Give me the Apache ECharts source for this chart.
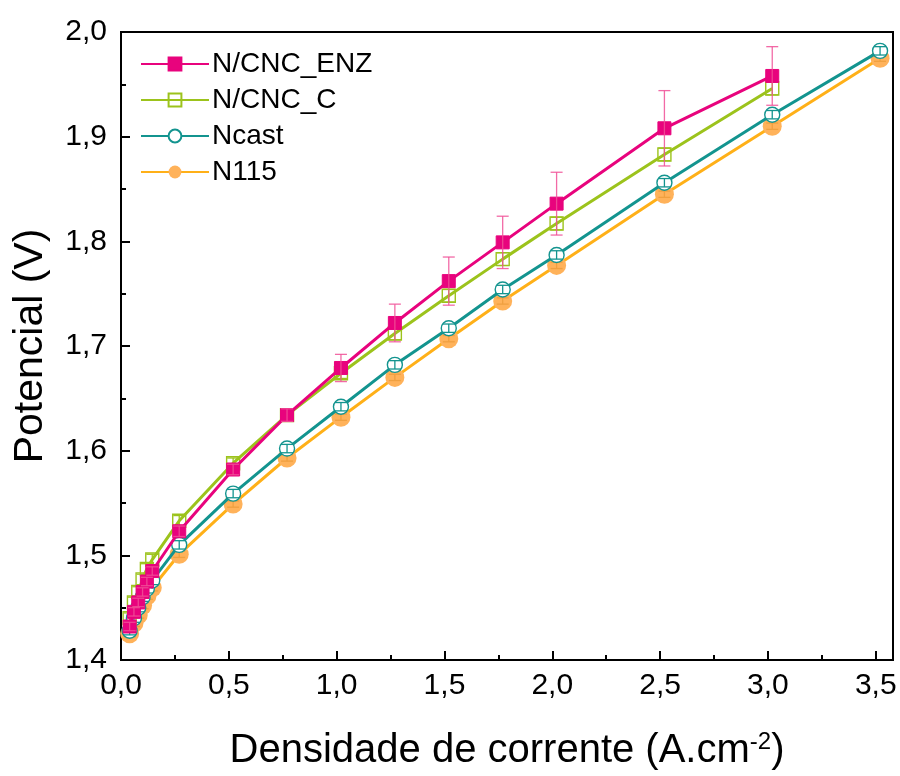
<!DOCTYPE html>
<html>
<head>
<meta charset="utf-8">
<script src="https://cdn.jsdelivr.net/npm/echarts@6/dist/echarts.min.js"></script>
<style>
  html, body { margin: 0; padding: 0; background: #fff; }
  #chart { width: 900px; height: 776px; }
</style>
</head>
<body>
<div id="chart"></div>
<script>
// Current density (A.cm^-2) at each measured point
const currentDensity = [0.04, 0.06, 0.08, 0.10, 0.12, 0.145, 0.27, 0.52, 0.77, 1.02, 1.27, 1.52, 1.77, 2.02, 2.52, 3.02, 3.52];

// Cell potential (V) for each membrane; null where no measurement
const potEnz   = [1.432, 1.446, 1.455, 1.465, 1.475, 1.485, 1.523, 1.582, 1.634, 1.679, 1.722, 1.762, 1.799, 1.836, 1.908, 1.958, null];
const potC     = [1.440, 1.455, 1.465, 1.477, 1.487, 1.496, 1.533, 1.588, 1.634, 1.674, 1.712, 1.748, 1.783, 1.817, 1.883, 1.946, null];
const potNcast = [1.428, 1.440, 1.450, 1.460, 1.468, 1.476, 1.510, 1.559, 1.602, 1.642, 1.682, 1.717, 1.754, 1.787, 1.856, 1.921, 1.982];
const potN115  = [1.425, 1.435, 1.443, 1.452, 1.461, 1.469, 1.501, 1.549, 1.593, 1.632, 1.670, 1.707, 1.743, 1.777, 1.845, 1.910, 1.975];

// Standard deviations (V)
const errEnz   = [0.004, 0.004, 0.004, 0.004, 0.004, 0.004, 0.005, 0.005, 0.006, 0.013, 0.018, 0.023, 0.025, 0.030, 0.036, 0.028, null];
const errC     = [0.005, 0.005, 0.005, 0.005, 0.005, 0.005, 0.005, 0.005, 0.005, 0.005, 0.006, 0.006, 0.006, 0.006, 0.006, 0.006, null];
const errNcast = [0.004, 0.004, 0.004, 0.004, 0.004, 0.004, 0.004, 0.004, 0.004, 0.004, 0.004, 0.004, 0.004, 0.004, 0.004, 0.004, 0.004];
const errN115  = [0.003, 0.003, 0.003, 0.003, 0.003, 0.003, 0.003, 0.003, 0.003, 0.003, 0.003, 0.003, 0.003, 0.003, 0.003, 0.003, 0.003];

const seriesNames = ['N/CNC_ENZ', 'N/CNC_C', 'Ncast', 'N115'];

// Axis ticks
const xTicks = { min: 0, max: 3.58, interval: 0.5 };
const yTicks = { min: 1.4, max: 2.0, interval: 0.1 };

const FONT = 'Liberation Sans, Arial, sans-serif';

function points(ys) {
  const out = [];
  ys.forEach((y, i) => { if (y !== null) out.push([currentDensity[i], y]); });
  return out;
}
function bars(ys, es) {
  const out = [];
  ys.forEach((y, i) => { if (y !== null && es[i] !== null) out.push([currentDensity[i], y - es[i], y + es[i]]); });
  return out;
}
function decimalComma(v) { return v.toFixed(1).replace('.', ','); }

function errorBarSeries(data, color, z) {
  return {
    type: 'custom',
    z: z,
    silent: true,
    data: data,
    encode: { x: 0, y: [1, 2] },
    renderItem: function (params, api) {
      const x = api.value(0);
      const lo = api.coord([x, api.value(1)]);
      const hi = api.coord([x, api.value(2)]);
      const hw = 6;
      const style = { stroke: color, lineWidth: 1.3, fill: null };
      return {
        type: 'group',
        children: [
          { type: 'line', shape: { x1: lo[0], y1: lo[1], x2: hi[0], y2: hi[1] }, style: style },
          { type: 'line', shape: { x1: lo[0] - hw, y1: lo[1], x2: lo[0] + hw, y2: lo[1] }, style: style },
          { type: 'line', shape: { x1: hi[0] - hw, y1: hi[1], x2: hi[0] + hw, y2: hi[1] }, style: style }
        ]
      };
    }
  };
}

const chart = echarts.init(document.getElementById('chart'), null, { renderer: 'canvas' });

chart.setOption({
  backgroundColor: '#fff',
  animation: false,
  grid: { left: 121, right: 7, top: 32, bottom: 114, show: true, borderColor: '#000', borderWidth: 2, backgroundColor: 'transparent' },
  legend: {
    data: seriesNames,
    orient: 'vertical',
    left: 135,
    top: 45,
    itemWidth: 68,
    itemHeight: 16,
    itemGap: 8,
    textStyle: { fontFamily: FONT, fontSize: 28, color: '#000', padding: [0, 0, 0, -2] }
  },
  xAxis: {
    type: 'value',
    min: xTicks.min, max: xTicks.max, interval: xTicks.interval,
    name: 'Densidade de corrente (A.cm{sup|-2})',
    nameLocation: 'middle',
    nameGap: 70,
    nameTextStyle: {
      fontFamily: FONT, fontSize: 40, color: '#000',
      rich: { sup: { fontFamily: FONT, fontSize: 24, color: '#000', verticalAlign: 'top', padding: [0, 0, 18, 0] } }
    },
    axisLine: { show: true, onZero: false, lineStyle: { color: '#000', width: 2 } },
    axisTick: { show: true, inside: true, length: 9, lineStyle: { color: '#000', width: 2 } },
    minorTick: { show: true, splitNumber: 2, length: 5, lineStyle: { color: '#000', width: 2 } },
    splitLine: { show: false },
    axisLabel: {
      fontFamily: FONT, fontSize: 30, color: '#000', margin: 11, showMaxLabel: true,
      formatter: function (v) { return Math.abs(v * 2 - Math.round(v * 2)) < 1e-6 ? decimalComma(v) : ''; }
    }
  },
  yAxis: {
    type: 'value',
    min: yTicks.min, max: yTicks.max, interval: yTicks.interval,
    name: 'Potencial (V)',
    nameLocation: 'middle',
    nameGap: 70,
    nameTextStyle: { fontFamily: FONT, fontSize: 41, color: '#000' },
    axisLine: { show: true, onZero: false, lineStyle: { color: '#000', width: 2 } },
    axisTick: { show: true, inside: true, length: 9, lineStyle: { color: '#000', width: 2 } },
    minorTick: { show: true, splitNumber: 2, length: 5, lineStyle: { color: '#000', width: 2 } },
    splitLine: { show: false },
    axisLabel: { fontFamily: FONT, fontSize: 30, color: '#000', margin: 14, formatter: decimalComma }
  },
  series: [
    {
      name: 'N/CNC_ENZ', type: 'line', z: 8, data: points(potEnz),
      symbol: 'rect', symbolSize: 13,
      lineStyle: { color: '#e8037d', width: 3 },
      itemStyle: { color: '#e8037d', borderColor: '#e8037d', borderWidth: 1 }
    },
    {
      name: 'N/CNC_C', type: 'line', z: 6, data: points(potC),
      symbol: 'rect', symbolSize: 13,
      lineStyle: { color: '#9cc31c', width: 3 },
      itemStyle: { color: 'rgba(255,255,255,0)', borderColor: '#9cc31c', borderWidth: 1.4 }
    },
    {
      name: 'Ncast', type: 'line', z: 4, data: points(potNcast),
      symbol: 'circle', symbolSize: 15,
      lineStyle: { color: '#13948f', width: 3 },
      itemStyle: { color: '#fff', borderColor: '#13948f', borderWidth: 1.4 }
    },
    {
      name: 'N115', type: 'line', z: 2, data: points(potN115),
      symbol: 'circle', symbolSize: 19,
      lineStyle: { color: '#ffb018', width: 3 },
      itemStyle: { color: '#ffb25a', borderColor: '#ffb25a', borderWidth: 0 }
    },
    errorBarSeries(bars(potN115, errN115), '#f0a040', 3),
    errorBarSeries(bars(potNcast, errNcast), '#13948f', 5),
    errorBarSeries(bars(potC, errC), '#9cc31c', 7),
    errorBarSeries(bars(potEnz, errEnz), 'rgba(240,80,150,0.85)', 9)
  ]
});
</script>
</body>
</html>
